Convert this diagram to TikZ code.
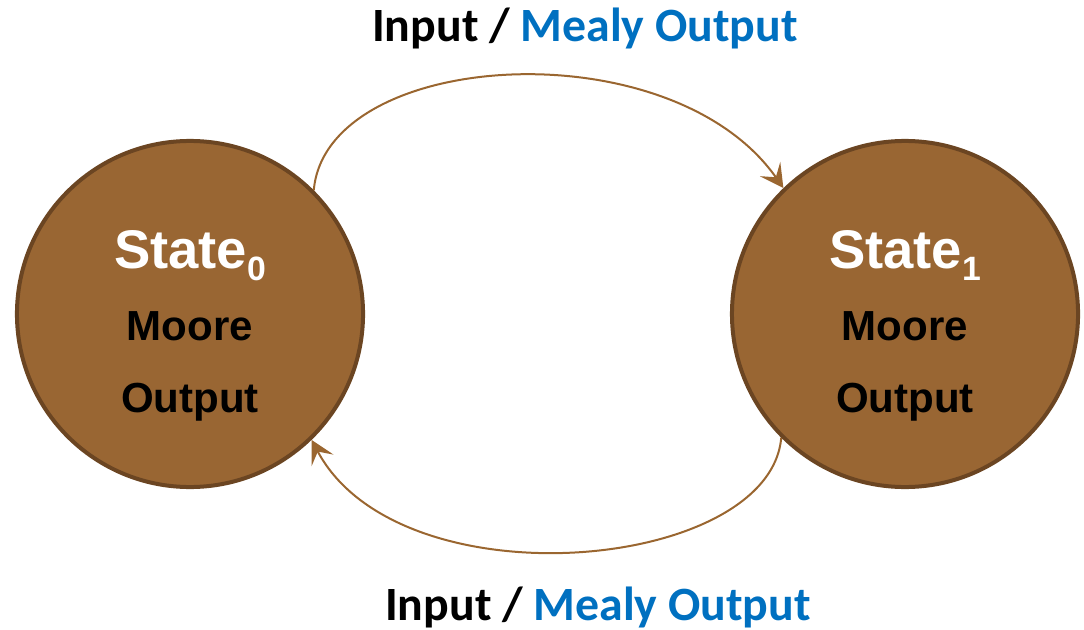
\documentclass[tikz,border=0pt]{standalone}
\usepackage{fontspec}
\setmainfont{Liberation Sans}
\newfontfamily\calibri{Carlito}
\usepackage{xcolor}
\usetikzlibrary{arrows.meta, positioning}

\definecolor{statefill}{HTML}{996633}
\definecolor{stateedge}{HTML}{6B4522}
\definecolor{transcol}{HTML}{9A6630}
\definecolor{mealyblue}{HTML}{0070C0}

\newcommand{\statename}[1]{{\color{white}\fontsize{38.7}{51}\selectfont State\raisebox{-8.5pt}{\fontsize{24}{24}\selectfont #1}}}

\begin{document}
\begin{tikzpicture}[
  x=0.025cm, y=-0.025cm,
  every node/.style={font=\bfseries},
  state/.style={
    circle, draw=stateedge, fill=statefill,
    line width=0.1cm, minimum size=8.65cm, inner sep=0pt
  },
  moore/.style={
    align=center, inner sep=0pt,
    font=\bfseries\fontsize{29.9}{51}\selectfont
  },
  trans/.style={
    draw=transcol, line width=0.05cm,
    -{Stealth[length=0.58cm, width=0.62cm, inset=0.25cm]}
  },
  mealy/.style={font=\calibri\bfseries\fontsize{34}{40}\selectfont, inner sep=0pt},
]
\useasboundingbox (0,0) rectangle (1084,630);

% States
\node[state] (s0) at (190,314) {};
\node[state] (s1) at (905,314) {};

\node[moore, yshift=-0.3cm] (s0txt) at (s0.center) {\statename{0}\\ Moore\\ Output};
\node[moore, yshift=-0.3cm] (s1txt) at (s1.center) {\statename{1}\\ Moore\\ Output};

% Transitions
\draw[trans] (s0.45) to[out=85, in=125, out looseness=0.77, in looseness=1.07] (s1.134);
\draw[trans] (s1.225) to[out=-95, in=-62, out looseness=0.73, in looseness=1.02] (s0.314);

% Transition labels
\node[mealy] (lbltop) at (585,28) {Input / \textcolor{mealyblue}{Mealy Output}};
\node[mealy] (lblbot) at (598,607) {Input / \textcolor{mealyblue}{Mealy Output}};

\end{tikzpicture}
\end{document}
